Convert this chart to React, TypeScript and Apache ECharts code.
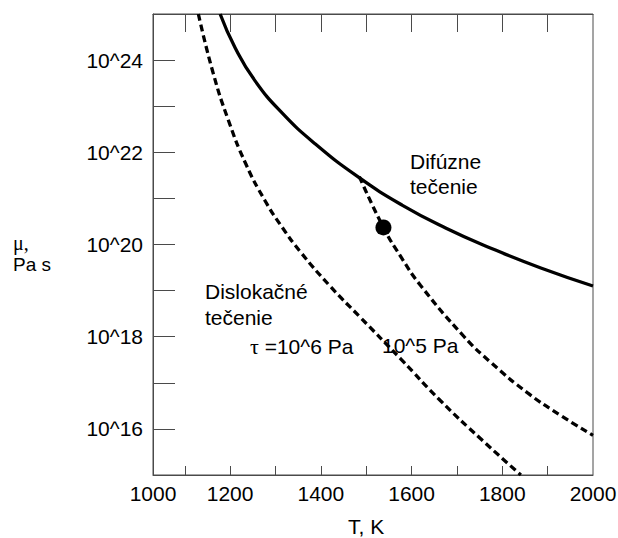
import React, { useEffect, useRef } from "react";
import * as echarts from "echarts";

// Temperature T (K) and log10 of viscosity μ (Pa s)
const diffusionT = [1178, 1211, 1255, 1315, 1388, 1483, 1580, 1675, 1775, 1885, 2000];
const diffusionLogMu = [25.0, 24.27, 23.55, 22.85, 22.18, 21.46, 20.85, 20.36, 19.92, 19.49, 19.1];

const disloc6T = [1130, 1162, 1196, 1235, 1277, 1315, 1355, 1421, 1487, 1576, 1664, 1753, 1841];
const disloc6LogMu = [25.0, 23.74, 22.7, 21.74, 20.95, 20.37, 19.84, 19.09, 18.42, 17.52, 16.61, 15.78, 15.0];

const disloc5T = [1485, 1538, 1576, 1620, 1715, 1775, 1856, 1929, 2000];
const disloc5LogMu = [21.47, 20.37, 19.74, 19.11, 18.01, 17.44, 16.78, 16.29, 15.86];

const markerT = [1538];
const markerLogMu = [20.37];

const xTickValues = [1100, 1200, 1300, 1400, 1500, 1600, 1700, 1800, 1900];
const xLabelValues = [1030, 1200, 1400, 1600, 1800, 2000];
const xLabelTexts = ["1000", "1200", "1400", "1600", "1800", "2000"];
const yLabelExponents = [16, 18, 20, 22, 24];

const FONT = "'Liberation Sans', Arial, Helvetica, sans-serif";
const SERIF = "'Liberation Serif', 'Times New Roman', serif";

export default function App() {
  const ref = useRef<HTMLDivElement>(null);
  useEffect(() => {
    if (!ref.current) return;
    const chart = echarts.init(ref.current, null, { renderer: "svg" });
    const pair = (xs: number[], ys: number[]) => xs.map((x, i) => [x, ys[i]]);
    const axisColor = "#4a4a4a";
    const dashed = { color: "#000", width: 3.3, type: [7, 4] };
    chart.setOption({
      animation: false,
      backgroundColor: "#ffffff",
      grid: {
        left: 153,
        top: 14,
        right: 25,
        bottom: 63,
        containLabel: false,
        outerBoundsMode: "none",
        show: true,
        borderColor: axisColor,
        borderWidth: 1,
      },
      xAxis: [
        {
          type: "value",
          min: 1030,
          max: 2000,
          position: "bottom",
          splitLine: { show: false },
          axisLine: { show: true, lineStyle: { color: axisColor, width: 1 } },
          axisTick: {
            show: true,
            inside: true,
            length: 9,
            customValues: xTickValues,
            lineStyle: { color: axisColor, width: 1 },
          },
          axisLabel: {
            show: true,
            customValues: xLabelValues,
            formatter: (v: number) => {
              const i = xLabelValues.indexOf(v);
              return i >= 0 ? xLabelTexts[i] : "";
            },
            color: "#000",
            fontFamily: FONT,
            fontSize: 21,
            margin: 8,
          },
        },
        {
          type: "value",
          min: 1030,
          max: 2000,
          position: "top",
          splitLine: { show: false },
          axisLine: { show: true, lineStyle: { color: axisColor, width: 1 } },
          axisTick: {
            show: true,
            inside: true,
            length: 18,
            customValues: xTickValues,
            lineStyle: { color: axisColor, width: 1 },
          },
          axisLabel: { show: false },
        },
      ],
      yAxis: {
        type: "value",
        min: 15,
        max: 25,
        interval: 1,
        splitLine: { show: false },
        axisLine: { show: true, lineStyle: { color: axisColor, width: 1 } },
        axisTick: {
          show: true,
          inside: true,
          length: 22,
          lineStyle: { color: axisColor, width: 1 },
        },
        axisLabel: {
          show: true,
          formatter: (v: number) => (yLabelExponents.indexOf(v) >= 0 ? "10^" + v : ""),
          color: "#000",
          fontFamily: FONT,
          fontSize: 21,
          margin: 10,
        },
      },
      series: [
        {
          type: "line",
          data: pair(diffusionT, diffusionLogMu),
          smooth: 0.5,
          symbol: "none",
          lineStyle: { color: "#000", width: 3.3 },
          clip: true,
        },
        {
          type: "line",
          data: pair(disloc6T, disloc6LogMu),
          smooth: 0.5,
          symbol: "none",
          lineStyle: dashed,
          clip: true,
        },
        {
          type: "line",
          data: pair(disloc5T, disloc5LogMu),
          smooth: 0.5,
          symbol: "none",
          lineStyle: dashed,
          clip: true,
        },
        {
          type: "scatter",
          data: pair(markerT, markerLogMu),
          symbol: "circle",
          symbolSize: 16,
          itemStyle: { color: "#000", opacity: 1 },
          z: 5,
        },
      ],
      graphic: [
        { type: "text", left: 410, top: 151, style: { text: "Difúzne", font: `21px ${FONT}`, fill: "#000" } },
        { type: "text", left: 410, top: 176, style: { text: "tečenie", font: `21px ${FONT}`, fill: "#000" } },
        { type: "text", left: 205, top: 281, style: { text: "Dislokačné", font: `21px ${FONT}`, fill: "#000" } },
        { type: "text", left: 205, top: 307, style: { text: "tečenie", font: `21px ${FONT}`, fill: "#000" } },
        {
          type: "text",
          left: 250,
          top: 335,
          style: {
            text: "{s|τ} =10^6 Pa",
            font: `21px ${FONT}`,
            fill: "#000",
            rich: { s: { fontFamily: SERIF, fontSize: 22, fill: "#000" } },
          },
        },
        { type: "text", left: 382, top: 335, style: { text: "10^5 Pa", font: `21px ${FONT}`, fill: "#000" } },
        { type: "text", left: 348, top: 516, style: { text: "T, K", font: `21px ${FONT}`, fill: "#000" } },
        { type: "text", left: 13, top: 233, style: { text: "μ,", font: `20px ${SERIF}`, fill: "#000" } },
        { type: "text", left: 13, top: 255, style: { text: "Pa s", font: `19px ${FONT}`, fill: "#000" } },
      ],
    });
    return () => chart.dispose();
  }, []);
  return (
    <div
      ref={ref}
      style={{ position: "fixed", left: 0, top: 0, width: 618, height: 538, background: "#fff" }}
    />
  );
}
